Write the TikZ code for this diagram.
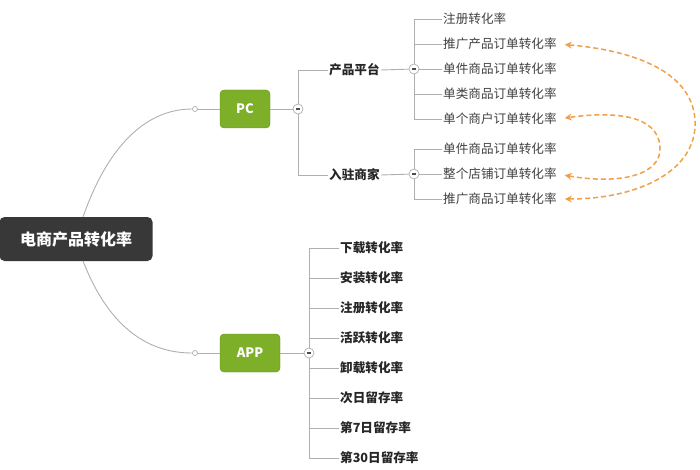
\documentclass[tikz,border=0pt]{standalone}
\usepackage{fontspec}
\setmainfont{Noto Sans CJK SC}
\usetikzlibrary{arrows.meta}
\definecolor{gline}{RGB}{175,175,175}
\definecolor{gfill}{RGB}{125,175,40}
\definecolor{org}{RGB}{240,160,70}
\begin{document}
\begin{tikzpicture}[x=1pt,y=-1pt,
  ln/.style={draw=gline,line width=0.9pt},
  item/.style={anchor=west,inner sep=1pt,font=\fontsize{12.6}{14}\selectfont,text=black!75},
  cat/.style={anchor=west,inner sep=1pt,font=\fontsize{12.6}{14}\selectfont\bfseries,text=black!85},
  green/.style={rounded corners=4pt,fill=gfill,draw=gfill!80!black,text=white,font=\fontsize{13}{15}\selectfont\bfseries,minimum height=38pt,inner sep=0pt},
  minus/.style={circle,draw=gline,fill=white,minimum size=10pt,inner sep=0pt,line width=0.7pt,path picture={\draw[black!70,line width=1.2pt] ([xshift=-2.2pt]path picture bounding box.center) -- ([xshift=2.2pt]path picture bounding box.center);}},
  dot/.style={circle,draw=gline,fill=white,minimum size=5pt,inner sep=0pt,line width=0.7pt},
  arr/.style={draw=org,line width=1.5pt,dash pattern=on 5pt off 3pt,{Stealth[length=7pt,width=7pt]}-{Stealth[length=7pt,width=7pt]},shorten <=7pt,shorten >=7pt}]
\useasboundingbox (0,0) rectangle (700,470);
\node[rounded corners=5pt,fill=black!78,text=white,font=\fontsize{16}{18}\selectfont\bfseries,minimum width=153pt,minimum height=44pt,inner sep=0pt] (root) at (76,239) {电商产品转化率};
\node[green,minimum width=50pt] (pc) at (245,109) {PC};
\node[green,minimum width=60pt] (app) at (250,353) {APP};
\node[dot] (d1) at (195,109) {};
\node[dot] (d2) at (195,353) {};
\draw[ln] (83,217) .. controls (110,140) and (150,109) .. (d1);
\draw[ln] (83,261) .. controls (110,330) and (150,353) .. (d2);
\draw[ln] (d1) -- (pc); \draw[ln] (d2) -- (app);
% PC
\node[minus] (m1) at (298,109) {};
\draw[ln] (pc) -- (m1);
\node[cat] (c1) at (328,70) {产品平台};
\node[cat] (c2) at (328,175) {入驻商家};
\draw[ln] (c1.west) -| (m1) |- (c2.west);
\node[minus] (m2) at (414,69) {};
\node[minus] (m3) at (414,174) {};
\draw[ln] (c1.east) -- (m2);
\draw[ln] (c2.east) -- (m3);
\foreach \t/\y/\n in {注册转化率/19/a1,推广产品订单转化率/44/a2,单件商品订单转化率/69/a3,单类商品订单转化率/94/a4,单个商户订单转化率/119/a5}
  \node[item] (\n) at (442,\y) {\t};
\foreach \t/\y/\n in {单件商品订单转化率/149/b1,整个店铺订单转化率/174/b2,推广商品订单转化率/199/b3}
  \node[item] (\n) at (442,\y) {\t};
\draw[ln] (a1.west) -| (m2) |- (a5.west);
\draw[ln] (a2.west) -- (414,44); \draw[ln] (a3.west) -- (m2); \draw[ln] (a4.west) -- (414,94);
\draw[ln] (b1.west) -| (m3) |- (b3.west);
\draw[ln] (b2.west) -- (m3);
% APP
\node[minus] (m4) at (309,353) {};
\draw[ln] (app) -- (m4);
\foreach \t/\y/\n in {下载转化率/248/p1,安装转化率/278/p2,注册转化率/308/p3,活跃转化率/338/p4,卸载转化率/368/p5,次日留存率/398/p6,第7日留存率/428/p7,第30日留存率/458/p8}
  \node[cat] (\n) at (339,\y) {\t};
\draw[ln] (p1.west) -| (m4) |- (p8.west);
\foreach \n/\y in {p2/278,p3/308,p4/338,p6/398,p7/428}
  \draw[ln] (\n.west) -- (310,\y);
\draw[ln] (p5.west) -- (310,368);
% arrows
\draw[arr] (b3.east) .. controls (640,199) and (698,170) .. (695,120) .. controls (692,70) and (630,50) .. (a2.east);
\draw[arr] (b2.east) .. controls (620,185) and (662,175) .. (660,147) .. controls (658,115) and (615,111) .. (a5.east);
\end{tikzpicture}
\end{document}
